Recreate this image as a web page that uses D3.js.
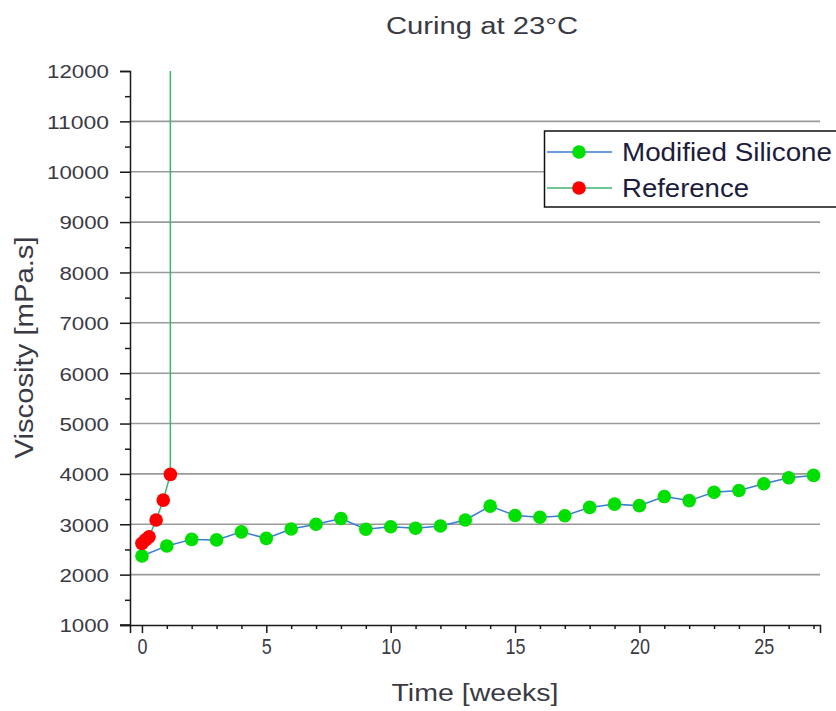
<!DOCTYPE html>
<html>
<head>
<meta charset="utf-8">
<script src="https://cdn.jsdelivr.net/npm/d3@7"></script>
<style>
  html, body { margin: 0; padding: 0; background: #fff; }
  svg { display: block; font-family: "Liberation Sans", Arial, sans-serif; }
</style>
</head>
<body>
<svg id="chart" width="836" height="711"></svg>
<script>
// ---------------- data ----------------
const title = "Curing at 23°C";
const xTitle = "Time [weeks]";
const yTitle = "Viscosity [mPa.s]";
const seriesNames = ["Modified Silicone", "Reference"];

const siliconeWeeks = [0,1,2,3,4,5,6,7,8,9,10,11,12,13,14,15,16,17,18,19,20,21,22,23,24,25,26,27];
const siliconeValues = [2370,2570,2700,2690,2850,2720,2905,3000,3115,2900,2950,2920,2965,3085,3360,3175,3140,3170,3335,3400,3370,3550,3470,3635,3670,3805,3925,3970];

const referenceWeeks = [0, 0.143, 0.286, 0.571, 0.857, 1.143];
const referenceValues = [2620, 2690, 2750, 3085, 3480, 3990];
const referenceCuredValue = 12000; // cured: line runs off the top of the scale

const xTicks = [0, 5, 10, 15, 20, 25];
const xMinorTicks = [1,2,3,4,6,7,8,9,11,12,13,14,16,17,18,19,21,22,23,24,26,27];
const yTicks = [1000,2000,3000,4000,5000,6000,7000,8000,9000,10000,11000,12000];
const yMinorTicks = [1500,2500,3500,4500,5500,6500,7500,8500,9500,10500,11500];
const yGrid = [2000,3000,4000,5000,6000,7000,8000,9000,10000,11000];

// ---------------- layout ----------------
const svg = d3.select("#chart");
const plotLeft = 130, plotRight = 820, plotTop = 71, plotBottom = 625;
const x = d3.scaleLinear().domain([-0.48, 27.26]).range([plotLeft, plotRight]);
const y = d3.scaleLinear().domain([1000, 12000]).range([plotBottom, plotTop]);

const colBlue = "#3a7bd5", colGreenLine = "#3cb371", colGreenMark = "#00e000", colRed = "#ff0000";
const axisCol = "#1a1a1a", textCol = "#3a3a44";

// grid
svg.append("g").selectAll("line").data(yGrid).join("line")
  .attr("x1", plotLeft).attr("x2", plotRight)
  .attr("y1", d => y(d)).attr("y2", d => y(d))
  .attr("stroke", "#9a9a9a").attr("stroke-width", 1.6);

// axes
const yAxis = d3.axisLeft(y).tickValues(yTicks).tickSize(10).tickPadding(0).tickFormat(d3.format("d"));
const gy = svg.append("g").attr("transform", `translate(${plotLeft},0)`).call(yAxis);
gy.select(".domain").attr("stroke", axisCol).attr("stroke-width", 1.5);
gy.selectAll(".tick line").attr("stroke", axisCol).attr("stroke-width", 1.5);
gy.selectAll(".tick text").attr("fill", textCol).attr("font-size", 19)
  .attr("x", -21).attr("dy", "0.36em")
  .attr("textLength", d => String(d).length * 12.4).attr("lengthAdjust", "spacingAndGlyphs");
const yMinorAxis = d3.axisLeft(y).tickValues(yMinorTicks).tickSize(5).tickFormat("");
const gym = svg.append("g").attr("transform", `translate(${plotLeft},0)`).call(yMinorAxis);
gym.select(".domain").remove();
gym.selectAll(".tick line").attr("stroke", axisCol).attr("stroke-width", 1.5);

const xAxis = d3.axisBottom(x).tickValues(xTicks).tickSize(8).tickPadding(5).tickFormat(d3.format("d"));
const gx = svg.append("g").attr("transform", `translate(0,${plotBottom})`).call(xAxis);
gx.select(".domain").attr("stroke", axisCol).attr("stroke-width", 1.5);
gx.selectAll(".tick line").attr("stroke", axisCol).attr("stroke-width", 1.5);
gx.selectAll(".tick text").attr("fill", textCol).attr("font-size", 22)
  .attr("textLength", d => String(d).length * 10).attr("lengthAdjust", "spacingAndGlyphs");
const xMinorAxis = d3.axisBottom(x).tickValues(xMinorTicks).tickSize(4).tickFormat("");
const gxm = svg.append("g").attr("transform", `translate(0,${plotBottom})`).call(xMinorAxis);
gxm.select(".domain").remove();
gxm.selectAll(".tick line").attr("stroke", axisCol).attr("stroke-width", 1.5);
svg.append("line").attr("x1", plotLeft - 10).attr("x2", plotLeft).attr("y1", plotBottom).attr("y2", plotBottom)
  .attr("stroke", axisCol).attr("stroke-width", 1.5);

// ---------------- series ----------------
const sil = siliconeWeeks.map((w, i) => ({ w, v: siliconeValues[i] }));
const ref = referenceWeeks.map((w, i) => ({ w, v: referenceValues[i] }));
const refLine = ref.concat([{ w: referenceWeeks[referenceWeeks.length - 1], v: referenceCuredValue }]);

const line = d3.line().x(d => x(d.w)).y(d => y(d.v));

svg.append("path").datum(refLine).attr("d", line)
  .attr("fill", "none").attr("stroke", colGreenLine).attr("stroke-width", 1.5);
svg.append("path").datum(sil).attr("d", line)
  .attr("fill", "none").attr("stroke", colBlue).attr("stroke-width", 1.5);

svg.append("g").selectAll("circle").data(sil).join("circle")
  .attr("cx", d => x(d.w)).attr("cy", d => y(d.v)).attr("r", 6.8)
  .attr("fill", colGreenMark);
svg.append("g").selectAll("circle").data(ref).join("circle")
  .attr("cx", d => x(d.w)).attr("cy", d => y(d.v)).attr("r", 6.8)
  .attr("fill", colRed);

// ---------------- titles ----------------
svg.append("text").attr("x", 482).attr("y", 34).attr("text-anchor", "middle")
  .attr("font-size", 23).attr("fill", textCol)
  .attr("textLength", 192).attr("lengthAdjust", "spacingAndGlyphs").text(title);
svg.append("text").attr("x", 475).attr("y", 701).attr("text-anchor", "middle")
  .attr("font-size", 23).attr("fill", textCol)
  .attr("textLength", 167).attr("lengthAdjust", "spacingAndGlyphs").text(xTitle);
svg.append("text").attr("transform", "translate(33,347.5) rotate(-90)").attr("text-anchor", "middle")
  .attr("font-size", 26).attr("fill", textCol)
  .attr("textLength", 222).attr("lengthAdjust", "spacingAndGlyphs").text(yTitle);

// ---------------- legend ----------------
const lg = svg.append("g");
lg.append("rect").attr("x", 544.5).attr("y", 131).attr("width", 310).attr("height", 76)
  .attr("fill", "#fff").attr("stroke", "#111").attr("stroke-width", 1.5);
const legendRows = [
  { name: seriesNames[0], line: colBlue, mark: colGreenMark, yy: 152, len: 210 },
  { name: seriesNames[1], line: colGreenLine, mark: colRed, yy: 188, len: 127 }
];
legendRows.forEach(r => {
  lg.append("line").attr("x1", 547).attr("x2", 612).attr("y1", r.yy).attr("y2", r.yy)
    .attr("stroke", r.line).attr("stroke-width", 1.5);
  lg.append("circle").attr("cx", 579).attr("cy", r.yy).attr("r", 6.8).attr("fill", r.mark);
  lg.append("text").attr("x", 622).attr("y", r.yy + 9).attr("font-size", 26)
    .attr("fill", "#1c1c3c").attr("textLength", r.len).attr("lengthAdjust", "spacingAndGlyphs")
    .text(r.name);
});
</script>
</body>
</html>
